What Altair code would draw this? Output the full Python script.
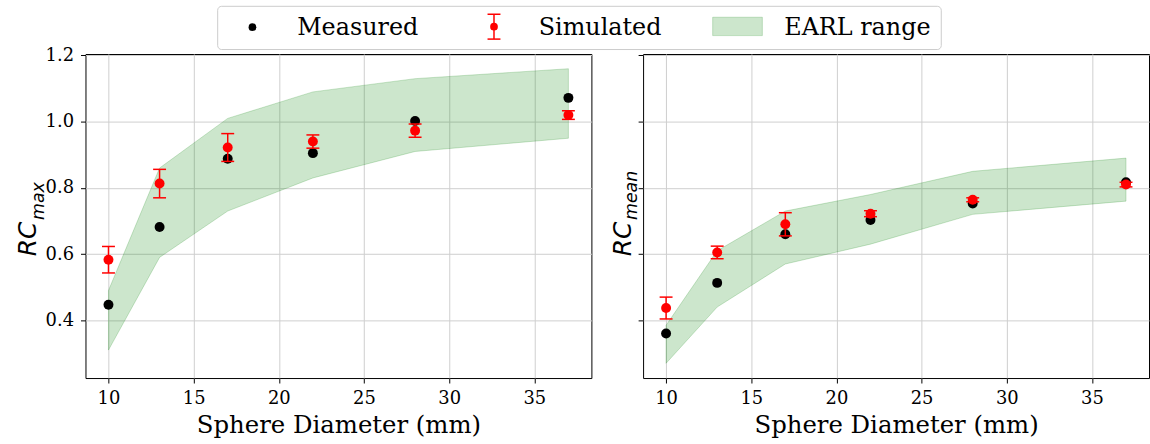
import altair as alt
import pandas as pd

# ---- data ----
DIAMETERS = [10, 13, 17, 22, 28, 37]

MEAS_MAX = [0.447, 0.682, 0.888, 0.905, 1.002, 1.072]
SIM_MAX = [0.583, 0.813, 0.922, 0.940, 0.973, 1.020]
SIM_MAX_ERR = [0.040, 0.043, 0.042, 0.020, 0.020, 0.013]
EARL_MAX_LO = [0.31, 0.59, 0.73, 0.83, 0.91, 0.95]
EARL_MAX_HI = [0.49, 0.86, 1.01, 1.09, 1.13, 1.16]

MEAS_MEAN = [0.360, 0.513, 0.660, 0.703, 0.753, 0.817]
SIM_MEAN = [0.437, 0.605, 0.690, 0.722, 0.764, 0.810]
SIM_MEAN_ERR = [0.033, 0.019, 0.035, 0.009, 0.006, 0.007]
EARL_MEAN_LO = [0.27, 0.44, 0.57, 0.63, 0.72, 0.76]
EARL_MEAN_HI = [0.385, 0.61, 0.73, 0.78, 0.85, 0.89]

X_TICKS = [10, 15, 20, 25, 30, 35]
Y_TICKS = [0.4, 0.6, 0.8, 1.0, 1.2]
LEGEND_LABELS = ["Measured", "Simulated", "EARL range"]
X_TITLE = "Sphere Diameter (mm)"

# matplotlib-like autoscale (5% margins), y shared by both panels
xmin, xmax = min(DIAMETERS), max(DIAMETERS)
xpad = 0.05 * (xmax - xmin)
XDOM = [xmin - xpad, xmax + xpad]
ylo_all = EARL_MAX_LO + EARL_MEAN_LO + MEAS_MAX + MEAS_MEAN
yhi_all = EARL_MAX_HI + EARL_MEAN_HI + MEAS_MAX + MEAS_MEAN
ymin, ymax = min(ylo_all), max(yhi_all)
ypad = 0.05 * (ymax - ymin)
YDOM = [ymin - ypad, ymax + ypad]

W, H = 509, 326
SERIF = "DejaVu Serif"
SANS = "DejaVu Sans"


def make_df(meas, sim, err, lo, hi):
    return pd.DataFrame({
        "d": DIAMETERS, "meas": meas, "sim": sim, "err": err, "lo": lo, "hi": hi,
    })


def panel(df, show_labels, sub, rc_x, sub_x, with_legend):
    xs = alt.Scale(domain=XDOM, nice=False, zero=False)
    ys = alt.Scale(domain=YDOM, nice=False, zero=False)
    xax = alt.Axis(values=X_TICKS, title=X_TITLE, grid=True, domain=False)
    yax = alt.Axis(values=Y_TICKS, format=".1f", labels=show_labels, title=None,
                   grid=True, domain=False)

    def X():
        return alt.X("d:Q", scale=xs, axis=xax)

    def Y(f):
        return alt.Y(f + ":Q", scale=ys, axis=yax)

    base = alt.Chart(df).transform_calculate(
        sim_lo="datum.sim - datum.err", sim_hi="datum.sim + datum.err"
    )
    area = base.mark_area(color="green", fillOpacity=0.2, stroke="green",
                          strokeOpacity=0.2, strokeWidth=1).encode(
        x=X(), y=Y("hi"), y2=alt.Y2("lo:Q"))
    meas = base.mark_circle(color="black", opacity=1, size=100).encode(
        x=X(), y=Y("meas"))
    stem = base.mark_rule(color="red", strokeWidth=1.5).encode(
        x=X(), y=Y("sim_lo"), y2=alt.Y2("sim_hi:Q"))
    cap_lo = base.mark_tick(color="red", orient="horizontal", size=13,
                            thickness=1.5, opacity=1).encode(x=X(), y=Y("sim_lo"))
    cap_hi = base.mark_tick(color="red", orient="horizontal", size=13,
                            thickness=1.5, opacity=1).encode(x=X(), y=Y("sim_hi"))
    simp = base.mark_circle(color="red", opacity=1, size=100).encode(
        x=X(), y=Y("sim"))

    one = alt.Data(values=[{}])
    rc = alt.Chart(one).mark_text(font=SANS, fontStyle="italic", fontSize=25,
                                  angle=270, align="center", baseline="alphabetic",
                                  color="black").encode(
        x=alt.value(rc_x), y=alt.value(186), text=alt.value("RC"))
    subt = alt.Chart(one).mark_text(font=SANS, fontStyle="italic", fontSize=17.5,
                                    angle=270, align="left", baseline="alphabetic",
                                    color="black").encode(
        x=alt.value(sub_x), y=alt.value(167), text=alt.value(sub))

    layers = [area, meas, stem, cap_lo, cap_hi, simp, rc, subt]

    if with_legend:
        box = alt.Chart(one).mark_rect(fill="white", fillOpacity=0.8, stroke="#cccccc",
                                       strokeWidth=1, cornerRadius=4).encode(
            x=alt.value(133), x2=alt.value(861), y=alt.value(-48), y2=alt.value(-4.5))
        ldot = alt.Chart(one).mark_circle(color="black", opacity=1, size=60).encode(
            x=alt.value(168), y=alt.value(-27))
        lstem = alt.Chart(one).mark_rule(color="red", strokeWidth=1.5).encode(
            x=alt.value(411), y=alt.value(-40), y2=alt.value(-15))
        lcap1 = alt.Chart(one).mark_rule(color="red", strokeWidth=1.5).encode(
            x=alt.value(404.5), x2=alt.value(417.5), y=alt.value(-40))
        lcap2 = alt.Chart(one).mark_rule(color="red", strokeWidth=1.5).encode(
            x=alt.value(404.5), x2=alt.value(417.5), y=alt.value(-15))
        lred = alt.Chart(one).mark_circle(color="red", opacity=1, size=60).encode(
            x=alt.value(411), y=alt.value(-27.5))
        lpatch = alt.Chart(one).mark_rect(fill="green", fillOpacity=0.2, stroke="green",
                                          strokeOpacity=0.2, strokeWidth=1).encode(
            x=alt.value(631), x2=alt.value(681), y=alt.value(-37), y2=alt.value(-18.5))
        txt = []
        for lab, px in zip(LEGEND_LABELS, [213, 456, 703]):
            txt.append(alt.Chart(one).mark_text(font=SERIF, fontSize=24, align="left",
                                                baseline="alphabetic", color="black").encode(
                x=alt.value(px), y=alt.value(-19), text=alt.value(lab)))
        layers += [box, ldot, lstem, lcap1, lcap2, lred, lpatch] + txt

    return alt.layer(*layers).properties(width=W, height=H)


left = panel(make_df(MEAS_MAX, SIM_MAX, SIM_MAX_ERR, EARL_MAX_LO, EARL_MAX_HI),
             True, "max", -50, -42, True)
right = panel(make_df(MEAS_MEAN, SIM_MEAN, SIM_MEAN_ERR, EARL_MEAN_LO, EARL_MEAN_HI),
              False, "mean", -12, -6, False)

chart = alt.hconcat(left, right, spacing=52, bounds="flush").properties(
    padding={"left": 15, "top": 4, "right": 0, "bottom": 0},
    background="white",
).configure_view(
    stroke="black", strokeWidth=1
).configure_axis(
    labelFont=SERIF, labelFontSize=18, labelColor="black", labelPadding=7,
    titleFont=SERIF, titleFontSize=24.5, titleFontWeight="normal", titleColor="black",
    titlePadding=6, tickColor="black", tickSize=5, tickWidth=1,
    gridColor="#cfcfcf", gridWidth=1,
)

chart.save("out.html", embed_options={"renderer": "svg", "actions": False})
